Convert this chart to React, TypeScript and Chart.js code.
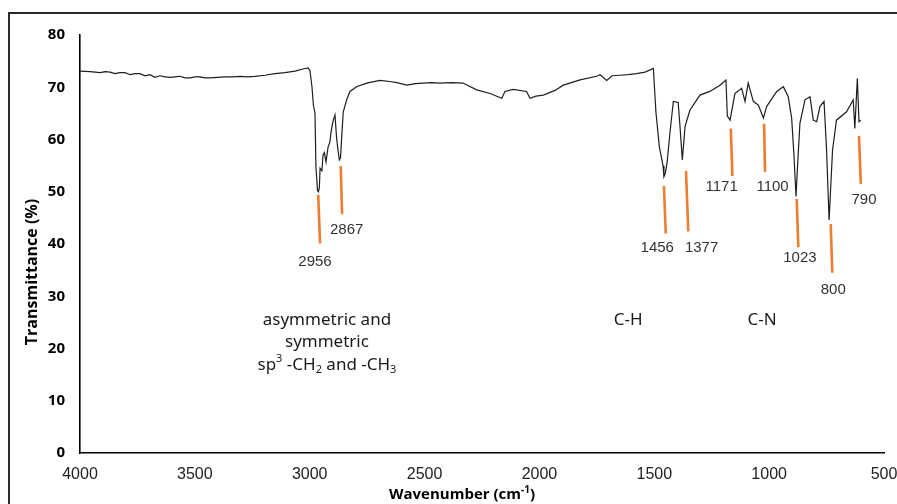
import React, { useEffect, useRef } from "react";
import { Chart, registerables } from "chart.js";

Chart.register(...registerables);

// Spectrum (wavenumber in cm-1, transmittance in %)
const wavenumbers = [
  4000, 3956, 3935, 3913, 3890, 3869, 3848, 3826, 3804, 3782, 3760, 3739, 3717, 3695,
  3674, 3652, 3630, 3608, 3587, 3565, 3543, 3521, 3500, 3478, 3456, 3434, 3400, 3369,
  3335, 3303, 3270, 3238, 3195, 3151, 3108, 3064, 3029, 3007, 2999, 2990, 2984, 2977,
  2973, 2966, 2962, 2958, 2955, 2947, 2942, 2936, 2929, 2920, 2912, 2907, 2899, 2890,
  2883, 2877, 2871, 2866, 2861, 2854, 2839, 2825, 2796, 2752, 2694, 2651, 2620, 2578, 2540, 2507,
  2470, 2433, 2380, 2333, 2273, 2215, 2164, 2150, 2114, 2056, 2041, 2015, 1983, 1932, 1896, 1823,
  1751, 1736, 1707, 1684, 1649, 1614, 1577, 1540, 1504, 1493, 1478, 1468, 1462, 1458,
  1452, 1444, 1432, 1417, 1396, 1388, 1378, 1366, 1345, 1301, 1258, 1214, 1188, 1182,
  1170, 1149, 1120, 1105, 1091, 1069, 1047, 1025, 1011, 967, 938, 917, 902, 892, 883,
  875, 866, 844, 822, 808, 793, 779, 761, 750, 739, 724, 707, 663, 634, 627, 616, 609, 601,
];
const transmittance = [
  73.1, 73.0, 72.9, 72.8, 73.0, 72.9, 72.6, 72.8, 72.8, 72.4, 72.6, 72.6, 72.2, 72.4,
  71.9, 72.2, 72.0, 71.9, 72.0, 72.1, 71.8, 71.8, 72.0, 72.0, 71.8, 71.8, 71.9, 72.0,
  72.0, 72.1, 72.0, 72.1, 72.3, 72.6, 72.8, 73.1, 73.5, 73.7, 73.2, 70.0, 66.6, 65.0,
  54.8, 50.2, 50.0, 50.8, 54.5, 54.0, 57.0, 57.5, 55.7, 58.6, 59.5, 61.5, 63.4, 64.7,
  60.3, 58.0, 56.1, 56.5, 60.3, 65.3, 67.6, 69.2, 70.1, 70.8, 71.3, 71.1, 70.9, 70.4, 70.7, 70.8,
  70.9, 70.8, 70.9, 70.8, 69.5, 68.8, 67.9, 69.2, 69.6, 69.2, 67.9, 68.3, 68.5, 69.4, 70.4, 71.4,
  72.1, 72.4, 71.3, 72.2, 72.3, 72.4, 72.6, 72.9, 73.6, 65.3, 58.6, 56.4, 55.0, 52.9,
  53.5, 55.7, 61.2, 67.3, 67.1, 62.5, 56.1, 62.5, 65.6, 68.5, 69.2, 70.4, 71.4, 64.5,
  63.7, 68.8, 69.8, 67.3, 70.8, 67.3, 66.6, 64.1, 66.3, 69.2, 70.1, 68.2, 64.1, 57.0, 49.1,
  56.0, 63.1, 67.6, 68.2, 63.7, 63.4, 66.3, 67.3, 58.0, 44.6, 58.0, 63.7, 65.3, 67.6, 62.1, 71.7, 63.4, 63.7,
];

// Axis ticks
const xTicks = [4000, 3500, 3000, 2500, 2000, 1500, 1000, 500];
const yTicks = [0, 10, 20, 30, 40, 50, 60, 70, 80];

// Peak markers (orange lines) and their labels
const peakNames = ["2956", "2867", "1456", "1377", "1171", "1100", "1023", "800", "790"];
const markerTopWn = [2963, 2865, 1458, 1362, 1167, 1022, 880, 732, 609];
const markerTopT = [49.4, 54.9, 51.1, 54.0, 62.1, 63.0, 48.6, 43.8, 60.7];
const markerBottomWn = [2955, 2859, 1450, 1352, 1160, 1018, 873, 725, 601];
const markerBottomT = [40.1, 45.7, 42.0, 42.4, 53.0, 53.8, 39.4, 34.5, 51.5];
const labelWn = [2977, 2839, 1487, 1294, 1207, 985, 866, 721, 587];
const labelT = [36.6, 42.7, 39.2, 39.2, 50.9, 51.0, 37.3, 31.3, 48.4];

// Region labels
const regionWn = [2925, 1614, 1031];
const regionT = [25.5, 25.5, 25.5];

const xTitle = "Wavenumber (cm";
const yTitle = "Transmittance (%)";

type Seg = { t: string; k?: "sup" | "sub" };

function drawRich(ctx: CanvasRenderingContext2D, segs: Seg[], cx: number, cy: number, size: number, family: string, weight: string) {
  const small = Math.round(size * 0.65);
  const fontFor = (s: Seg) => `${weight} ${s.k ? small : size}px ${family}`;
  let total = 0;
  for (const s of segs) {
    ctx.font = fontFor(s);
    total += ctx.measureText(s.t).width;
  }
  let x = cx - total / 2;
  ctx.textAlign = "left";
  ctx.textBaseline = "middle";
  for (const s of segs) {
    ctx.font = fontFor(s);
    const dy = s.k === "sup" ? -size * 0.33 : s.k === "sub" ? size * 0.3 : 0;
    ctx.fillText(s.t, x, cy + dy);
    x += ctx.measureText(s.t).width;
  }
}

const textPlugin = {
  id: "texts",
  beforeDraw(chart: any) {
    const ctx = chart.ctx;
    ctx.save();
    ctx.fillStyle = "#ffffff";
    ctx.fillRect(0, 0, chart.width, chart.height);
    ctx.strokeStyle = "#2b2b2b";
    ctx.lineWidth = 2;
    ctx.strokeRect(9, 13, 1200, 1200);
    ctx.restore();
  },
  afterDatasetsDraw(chart: any) {
    const ctx = chart.ctx;
    const xs = chart.scales.x;
    const ys = chart.scales.y;
    ctx.save();
    ctx.fillStyle = "#333333";
    ctx.font = "15px 'Liberation Sans', Arial, sans-serif";
    ctx.textAlign = "center";
    ctx.textBaseline = "middle";
    peakNames.forEach((name, i) => {
      ctx.fillText(name, xs.getPixelForValue(labelWn[i]), ys.getPixelForValue(labelT[i]));
    });

    ctx.fillStyle = "#1a1a1a";
    const fam = "'Noto Sans', sans-serif";
    const size = 17;
    const ax = xs.getPixelForValue(regionWn[0]);
    const ay = ys.getPixelForValue(regionT[0]);
    drawRich(ctx, [{ t: "asymmetric and" }], ax, ay, size, fam, "normal");
    drawRich(ctx, [{ t: "symmetric" }], ax, ay + 22, size, fam, "normal");
    drawRich(
      ctx,
      [{ t: "sp" }, { t: "3", k: "sup" }, { t: " -CH" }, { t: "2", k: "sub" }, { t: " and -CH" }, { t: "3", k: "sub" }],
      ax,
      ay + 45,
      size,
      fam,
      "normal"
    );
    drawRich(ctx, [{ t: "C-H" }], xs.getPixelForValue(regionWn[1]), ys.getPixelForValue(regionT[1]), size, fam, "normal");
    drawRich(ctx, [{ t: "C-N" }], xs.getPixelForValue(regionWn[2]), ys.getPixelForValue(regionT[2]), size, fam, "normal");

    // axis titles
    ctx.fillStyle = "#000000";
    const tf = "'Open Sans', sans-serif";
    drawRich(ctx, [{ t: xTitle }, { t: "-1", k: "sup" }, { t: ")" }], 462, 495, 15, tf, "bold");
    ctx.translate(32, 272);
    ctx.rotate(-Math.PI / 2);
    drawRich(ctx, [{ t: yTitle }], 0, 0, 16, tf, "bold");
    ctx.restore();
  },
};

export default function App() {
  const ref = useRef<HTMLCanvasElement | null>(null);
  useEffect(() => {
    document.body.style.margin = "0";
    const spectrum = wavenumbers.map((w, i) => ({ x: w, y: transmittance[i] }));
    const markers = peakNames.map((name, i) => ({
      label: name,
      data: [
        { x: markerTopWn[i], y: markerTopT[i] },
        { x: markerBottomWn[i], y: markerBottomT[i] },
      ],
      showLine: true,
      borderColor: "#ED7D31",
      borderWidth: 2.6,
      pointRadius: 0,
      tension: 0,
    }));
    const chart = new Chart(ref.current as HTMLCanvasElement, {
      type: "scatter",
      data: {
        datasets: [
          {
            label: "Spectrum",
            data: spectrum,
            showLine: true,
            borderColor: "#1e1e1e",
            borderWidth: 1.2,
            pointRadius: 0,
            tension: 0,
          },
          ...markers,
        ],
      },
      options: {
        animation: false,
        responsive: false,
        maintainAspectRatio: false,
        layout: { padding: { left: 0, top: 35, right: 13, bottom: 0 } },
        plugins: { legend: { display: false }, tooltip: { enabled: false }, title: { display: false } },
        scales: {
          x: {
            type: "linear",
            min: 500,
            max: 4000,
            reverse: true,
            afterFit: (s: any) => {
              s.height = 51;
              s.paddingLeft = 0;
              s.paddingRight = 0;
            },
            afterBuildTicks: (s: any) => {
              s.ticks = xTicks.map((v) => ({ value: v }));
            },
            grid: { display: false, drawTicks: false },
            border: { display: true, color: "#000000", width: 1.6 },
            ticks: {
              padding: 12,
              color: "#222222",
              font: { family: "'Liberation Sans', Arial, sans-serif", size: 16 },
              maxRotation: 0,
              autoSkip: false,
              callback: (v: any) => String(v),
            },
          },
          y: {
            type: "linear",
            min: 0,
            max: 80,
            afterFit: (s: any) => {
              s.width = 80;
              s.paddingTop = 0;
              s.paddingBottom = 0;
            },
            afterBuildTicks: (s: any) => {
              s.ticks = yTicks.map((v) => ({ value: v }));
            },
            grid: { display: false, drawTicks: false },
            border: { display: true, color: "#000000", width: 1.6 },
            ticks: {
              padding: 15,
              color: "#000000",
              font: { family: "'Open Sans', sans-serif", size: 15, weight: "bold" },
              autoSkip: false,
              callback: (v: any) => String(v),
            },
          },
        },
      },
      plugins: [textPlugin],
    });
    return () => chart.destroy();
  }, []);
  return (
    <div style={{ position: "fixed", left: 0, top: 0, width: 897, height: 504 }}>
      <canvas ref={ref} width={897} height={504} style={{ display: "block", width: 897, height: 504 }} />
    </div>
  );
}
